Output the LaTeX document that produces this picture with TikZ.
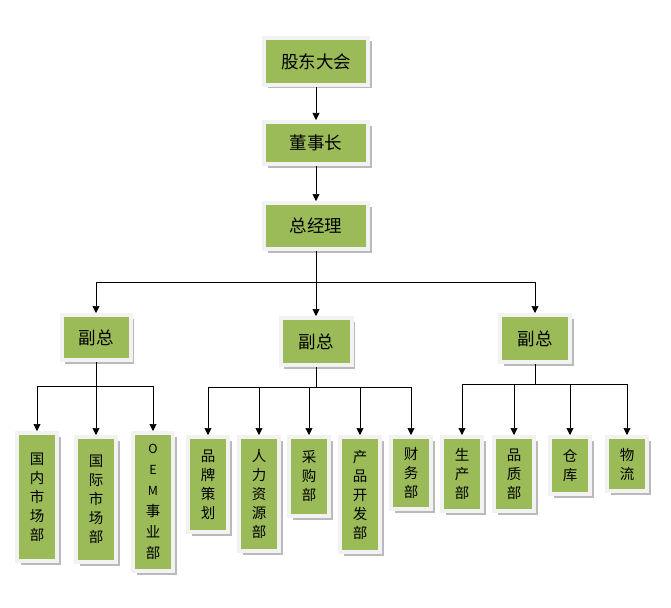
\documentclass[tikz,border=0pt]{standalone}
\usepackage{fontspec}
\newfontfamily\cjk{Noto Sans CJK SC}
\usepackage{xcolor}
\usepackage{tikz}
\usetikzlibrary{arrows.meta}
\usetikzlibrary{shadows}

\definecolor{boxgreen}{HTML}{9BBB59}
\definecolor{boxrim}{HTML}{F2F2F2}

\begin{document}
\begin{tikzpicture}[x=1pt, y=-1pt, semithick,
    >={Triangle[length=7pt, width=7pt]},
    box/.style={draw=boxrim, line width=4pt, fill=boxgreen, inner sep=0pt,
      drop shadow={shadow xshift=3.5pt, shadow yshift=-3.5pt,
        fill=black!60, opacity=.45},
      font=\cjk\fontsize{17.5}{20}\selectfont},
    colbox/.style={box, anchor=north, minimum width=40pt, align=center,
      font=\cjk\fontsize{14.5}{19}\selectfont}]

    \useasboundingbox (0, 0) rectangle (671, 607);

    \node [box, minimum width=104pt, minimum height=47pt] (gdh) at (316, 61.5) {股东大会};
    \node [box, minimum width=104pt, minimum height=42pt] (dsz) at (316, 143) {董事长};
    \node [box, minimum width=104pt, minimum height=46pt] (zjl) at (316, 226) {总经理};

    \node [box, minimum width=69pt, minimum height=45pt] (fz1) at (96, 337.5) {副总};
    \node [box, minimum width=71pt, minimum height=47pt] (fz2) at (316, 341.5) {副总};
    \node [box, minimum width=70pt, minimum height=47pt] (fz3) at (535, 338.5) {副总};

    \node [colbox, minimum height=128pt] (c1) at (37, 431) {国\\内\\市\\场\\部};
    \node [colbox, minimum height=125pt] (c2) at (96, 435) {国\\际\\市\\场\\部};
    \node [colbox, minimum height=138pt, font=\cjk\fontsize{14.5}{21}\selectfont] (c3) at (153, 431)
      {{\fontsize{12.5}{21}\selectfont O}\\{\fontsize{12.5}{21}\selectfont E}\\{\fontsize{12.5}{21}\selectfont M}\\事\\业\\部};

    \node [colbox, minimum height=95pt] (m1) at (208, 435) {品\\牌\\策\\划};
    \node [colbox, minimum height=114pt] (m2) at (259, 435) {人\\力\\资\\源\\部};
    \node [colbox, minimum height=79pt] (m3) at (309, 435) {采\\购\\部};
    \node [colbox, minimum height=115pt] (m4) at (360, 435) {产\\品\\开\\发\\部};
    \node [colbox, minimum height=72pt] (m5) at (411, 435) {财\\务\\部};

    \node [colbox, minimum height=74pt] (r1) at (462, 435) {生\\产\\部};
    \node [colbox, minimum height=74pt] (r2) at (514, 435) {品\\质\\部};
    \node [colbox, minimum height=57pt] (r3) at (570, 435) {仓\\库};
    \node [colbox, minimum height=54pt] (r4) at (627, 435) {物\\流};

    \draw [->] (gdh) -- (dsz);
    \draw [->] (dsz) -- (zjl);

    \coordinate (split) at (316, 282);
    \draw (zjl) -- (split);
    \draw [->] (split) -| (fz1);
    \draw [->] (split) -- (fz2);
    \draw [->] (split) -| (fz3);

    \coordinate (lbus) at (96, 386);
    \draw (fz1) -- (lbus);
    \foreach \c in {c1, c2, c3}
      \draw [->] (lbus) -| (\c);

    \coordinate (mbus) at (316, 387);
    \draw (fz2) -- (mbus);
    \foreach \c in {m1, m2, m3, m4, m5}
      \draw [->] (mbus) -| (\c);

    \coordinate (rbus) at (535, 384);
    \draw (fz3) -- (rbus);
    \foreach \c in {r1, r2, r3, r4}
      \draw [->] (rbus) -| (\c);

\end{tikzpicture}
\end{document}
